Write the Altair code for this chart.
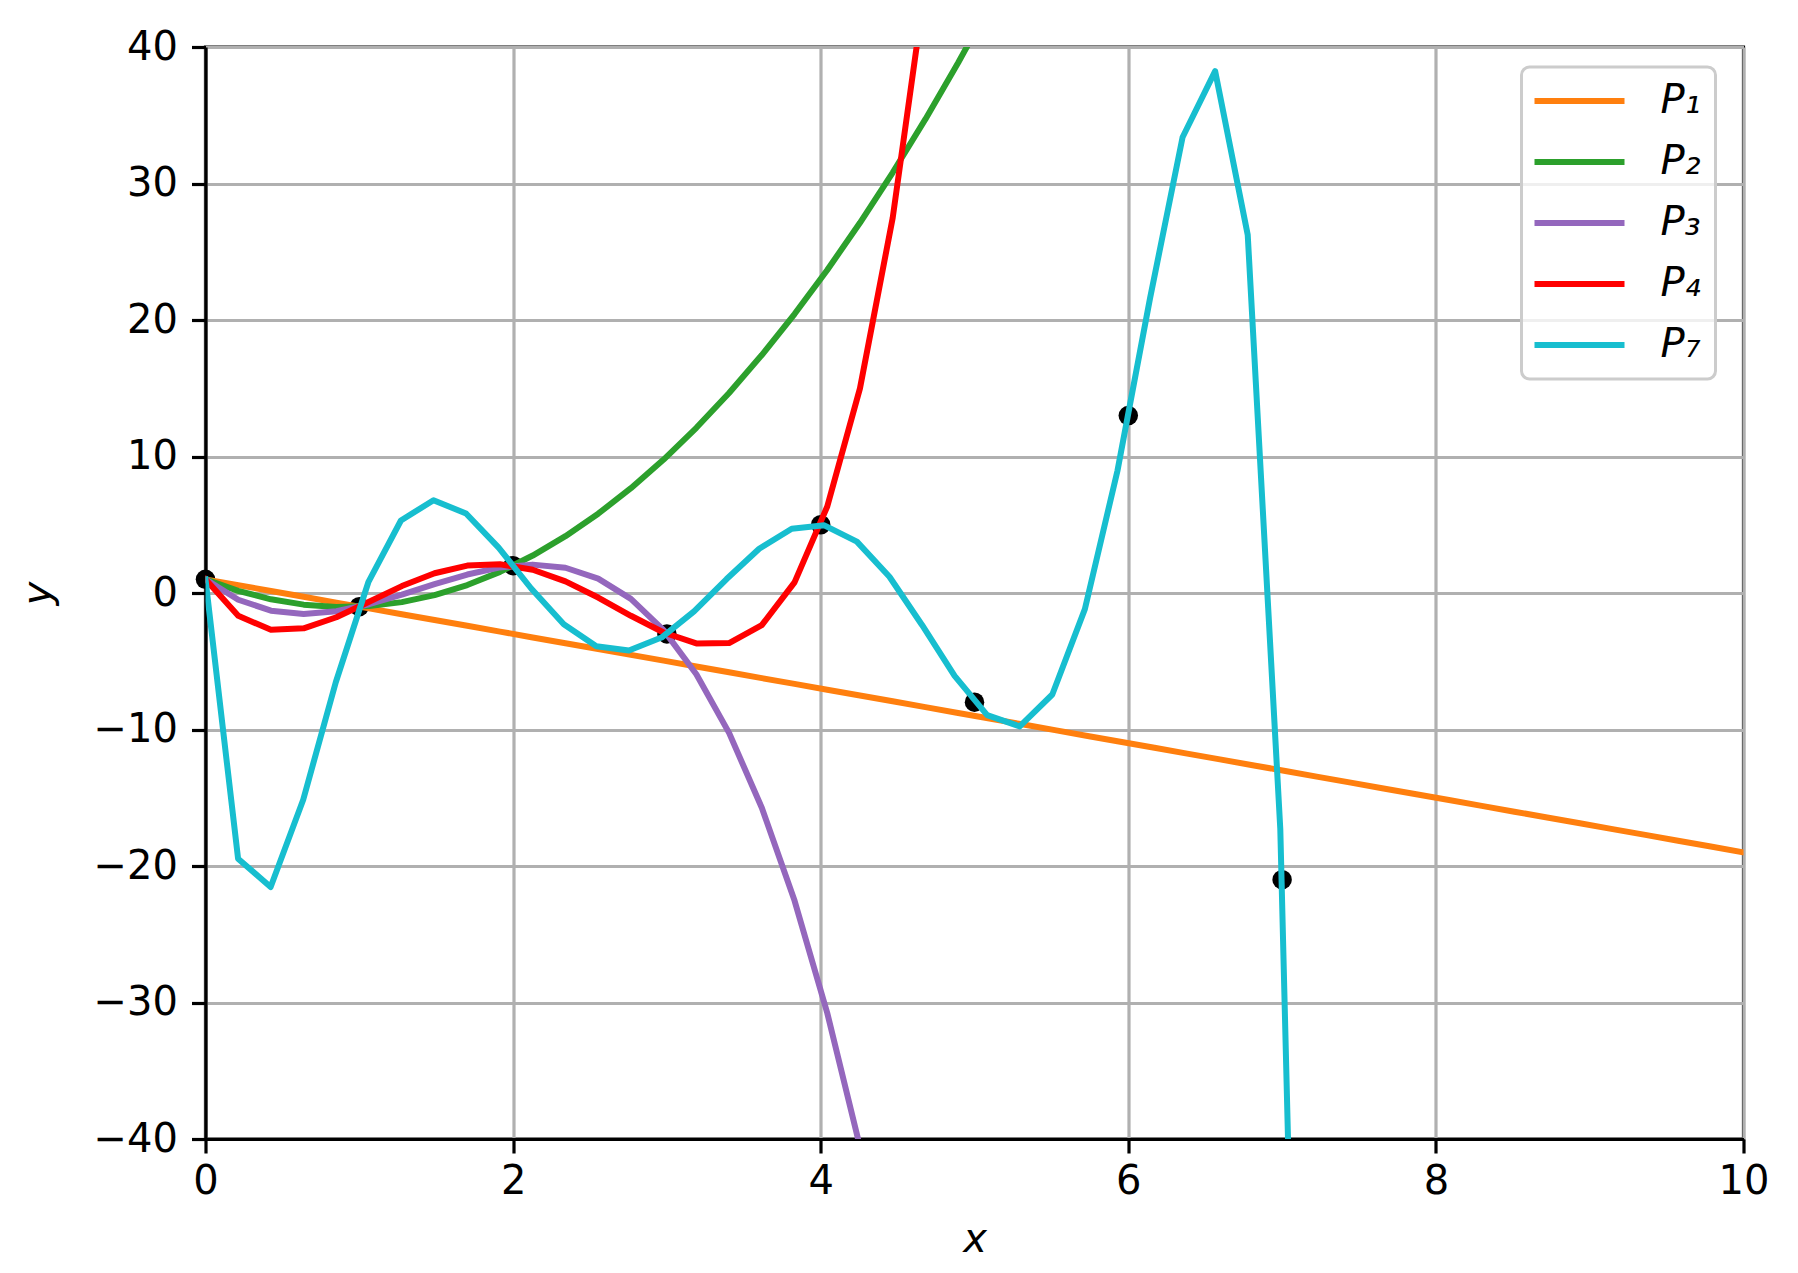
import altair as alt
import pandas as pd

# sample positions used for P1..P4
xs = [0.0, 0.2128, 0.4255, 0.6383, 0.8511, 1.0638, 1.2766, 1.4894, 1.7021, 1.9149,
      2.1277, 2.3404, 2.5532, 2.7660, 2.9787, 3.1915, 3.4043, 3.6170, 3.8298, 4.0426,
      4.2553, 4.4681, 4.6809, 4.8936, 5.1064, 5.3191, 5.5319, 5.7447, 5.9574, 6.1702,
      6.3830, 6.5957, 6.8085, 7.0213, 7.2340, 7.4468, 7.6596, 7.8723, 8.0851, 8.2979,
      8.5106, 8.7234, 8.9362, 9.1489, 9.3617, 9.5745, 9.7872, 10.0]

# sample positions of the P7 polyline (vertices)
xs7 = [0.0, 0.2118, 0.4235, 0.6353, 0.8471, 1.0588, 1.2706, 1.4824, 1.6941, 1.9059,
       2.1176, 2.3294, 2.5412, 2.7529, 2.9647, 3.1765, 3.3882, 3.6000, 3.8118, 4.0235,
       4.2353, 4.4471, 4.6588, 4.8706, 5.0824, 5.2941, 5.5059, 5.7176, 5.9294, 6.1412,
       6.3529, 6.5647, 6.7765, 6.9882, 7.2000]

p1 = [1, 0.574, 0.149, -0.277, -0.702, -1.128, -1.553, -1.979, -2.404, -2.830,
      -3.255, -3.681, -4.106, -4.532, -4.957, -5.383, -5.809, -6.234, -6.660, -7.085,
      -7.511, -7.936, -8.362, -8.787, -9.213, -9.638, -10.064, -10.489, -10.915, -11.340,
      -11.766, -12.191, -12.617, -13.043, -13.468, -13.894, -14.319, -14.745, -15.170, -15.596,
      -16.021, -16.447, -16.872, -17.298, -17.723, -18.149, -18.574, -19]

p2 = [1, 0.156, -0.462, -0.854, -1.019, -0.958, -0.670, -0.157, 0.584, 1.550,
      2.743, 4.162, 5.808, 7.679, 9.778, 12.102, 14.653, 17.431, 20.434, 23.664,
      27.120, 30.803, 34.712, 38.847, 43.209]

p3 = [1, -0.493, -1.296, -1.535, -1.335, -0.820, -0.117, 0.650, 1.355, 1.873,
      2.079, 1.848, 1.055, -0.427, -2.721, -5.953, -10.249, -15.733, -22.531, -30.769,
      -40.570]

p4 = [1, -1.675, -2.700, -2.587, -1.778, -0.646, 0.507, 1.446, 2.009, 2.102,
      1.701, 0.850, -0.334, -1.667, -2.895, -3.693, -3.667, -2.354, 0.780, 6.337,
      14.989, 27.480, 44.621]

p7 = [1, -19.466, -21.535, -15.143, -6.538, 0.790, 5.310, 6.799, 5.824, 3.328,
      0.330, -2.287, -3.902, -4.219, -3.264, -1.348, 1.022, 3.237, 4.705, 4.959,
      3.764, 1.190, -2.341, -6.067, -8.942, -9.773, -7.435, -1.180, 8.948, 21.586,
      33.388, 38.227, 26.239, -17.274, -113.160]

pts_x = [0, 1, 2, 3, 4, 5, 6, 7]
pts_y = [1, -1, 2, -3, 5, -8, 13, -21]

labels = ["P\u2081", "P\u2082", "P\u2083", "P\u2084", "P\u2087"]
colors = ["#ff7f0e", "#2ca02c", "#9467bd", "#ff0000", "#17becf"]
series_vals = [p1, p2, p3, p4, p7]
series_x = [xs, xs, xs, xs, xs7]

W, H = 1538, 1092
FONT = "DejaVu Sans"

xscale = alt.Scale(domain=[0, 10], nice=False, zero=False)
yscale = alt.Scale(domain=[-40, 40], nice=False, zero=False)

common_axis = dict(
    grid=True, gridColor="#b0b0b0", gridWidth=3.2,
    domainColor="black", domainWidth=3.2,
    tickColor="black", tickWidth=3.2, tickSize=14,
    labelFont=FONT, labelFontSize=40, labelColor="black",
    labelFlush=False, labelOverlap=False,
    titleFont=FONT, titleFontSize=40, titleFontStyle="italic",
    titleFontWeight="normal", titleColor="black",
    titleBaseline="alphabetic", titleAlign="center",
)
xaxis = alt.Axis(values=[0, 2, 4, 6, 8, 10], title="x", labelPadding=8,
                 titleX=W / 2, titleY=112, **common_axis)
yaxis = alt.Axis(values=[-40, -30, -20, -10, 0, 10, 20, 30, 40], title="y",
                 labelPadding=14, titleAngle=-90, titleX=-155, titleY=H / 2,
                 **common_axis)

legend = alt.Legend(
    orient="none", legendX=1316, legendY=20, title=None,
    symbolType="M-4.5,0H4.5", symbolSize=400, symbolStrokeWidth=6, symbolOffset=24,
    labelFont=FONT, labelFontSize=40, labelFontStyle="italic", labelColor="black",
    labelOffset=61, padding=14, rowPadding=21,
    fillColor="rgba(255,255,255,0.8)", strokeColor="#cccccc", cornerRadius=8,
)
color = alt.Color("series:N", scale=alt.Scale(domain=labels, range=colors), legend=legend)

dots = alt.Chart(pd.DataFrame({"x": pts_x, "y": pts_y})).mark_circle(
    size=380, color="black", opacity=1
).encode(
    x=alt.X("x:Q", scale=xscale, axis=xaxis),
    y=alt.Y("y:Q", scale=yscale, axis=yaxis),
)

layers = [dots]
for lab, xv, ys in zip(labels, series_x, series_vals):
    d = pd.DataFrame({"x": xv[:len(ys)], "y": ys, "series": lab})
    layers.append(
        alt.Chart(d).mark_line(clip=True, strokeWidth=6, strokeJoin="round", strokeCap="square").encode(
            x=alt.X("x:Q", scale=xscale, axis=xaxis),
            y=alt.Y("y:Q", scale=yscale, axis=yaxis),
            color=color,
        )
    )

chart = alt.layer(*layers).properties(
    width=W, height=H,
    padding={"left": 197.5, "top": 39, "right": 40, "bottom": 124},
    autosize=alt.AutoSizeParams(type="none"),
).configure_view(
    stroke="black", strokeWidth=3.2
).configure_legend(
    strokeWidth=3
)

chart.save("out.html", embed_options={"renderer": "svg", "actions": False})
